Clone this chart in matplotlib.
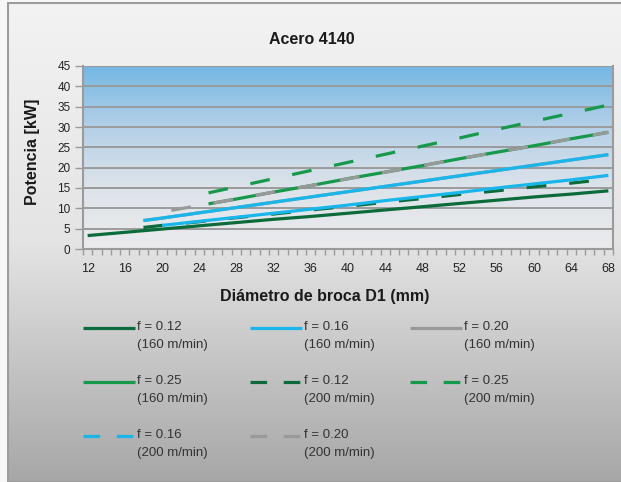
import numpy as np
import matplotlib
matplotlib.use("Agg")
import matplotlib.pyplot as plt
from matplotlib.lines import Line2D
from matplotlib.patches import Rectangle
from matplotlib.colors import LinearSegmentedColormap

W, H = 621, 482

# diameters (mm) and power (kW)
d_012_160 = [12, 16, 20, 24, 28, 32, 36, 40, 44, 48, 52, 56, 60, 64, 68]
p_012_160 = [3.3, 4.1, 4.9, 5.7, 6.5, 7.3, 8.0, 8.8, 9.6, 10.4, 11.2, 12.0, 12.8, 13.5, 14.3]

d_016_160 = [20, 24, 28, 32, 36, 40, 44, 48, 52, 56, 60, 64, 68]
p_016_160 = [5.8, 6.8, 7.8, 8.8, 9.8, 10.8, 11.9, 12.9, 13.9, 15.0, 16.0, 17.0, 18.1]

d_020_160 = [18, 20, 24, 28, 32, 36, 40, 44, 48, 52, 56, 60, 64, 68]
p_020_160 = [7.0, 7.6, 8.9, 10.2, 11.5, 12.8, 14.1, 15.4, 16.7, 18.0, 19.3, 20.6, 21.9, 23.2]

d_025_160 = [25, 28, 32, 36, 40, 44, 48, 52, 56, 60, 64, 68]
p_025_160 = [11.1, 12.3, 14.0, 15.6, 17.3, 18.9, 20.5, 22.2, 23.8, 25.4, 27.1, 28.7]

d_012_200 = [18, 20, 24, 28, 32, 36, 40, 44, 48, 52, 56, 60, 64, 68]
p_012_200 = [5.3, 5.8, 6.7, 7.7, 8.6, 9.6, 10.5, 11.5, 12.4, 13.4, 14.3, 15.3, 16.2, 17.2]

d_016_200 = [18, 20, 24, 28, 32, 36, 40, 44, 48, 52, 56, 60, 64, 68]
p_016_200 = [7.0, 7.6, 8.9, 10.2, 11.5, 12.8, 14.1, 15.4, 16.7, 18.0, 19.3, 20.6, 21.9, 23.2]

d_020_200 = [21, 24, 28, 32, 36, 40, 44, 48, 52, 56, 60, 64, 68]
p_020_200 = [9.5, 10.7, 12.3, 14.0, 15.6, 17.3, 18.9, 20.5, 22.2, 23.8, 25.4, 27.1, 28.7]

d_025_200 = [25, 28, 32, 36, 40, 44, 48, 52, 56, 60, 64, 68]
p_025_200 = [13.8, 15.3, 17.3, 19.3, 21.3, 23.3, 25.3, 27.3, 29.4, 31.4, 33.4, 35.4]

x_ticks = list(range(12, 69, 4))
y_ticks = list(range(0, 46, 5))

c_dkgreen = '#0b6b3a'
c_green = '#16994a'
c_cyan = '#18b6ea'
c_gray = '#999999'
DASH = (6.2, 7.2)

# label, x, y, color, dashed   (draw order = z order)
series = [
    ('f = 0.12\n(160 m/min)', d_012_160, p_012_160, c_dkgreen, False),
    ('f = 0.20\n(160 m/min)', d_020_160, p_020_160, c_gray, False),
    ('f = 0.25\n(160 m/min)', d_025_160, p_025_160, c_green, False),
    ('f = 0.12\n(200 m/min)', d_012_200, p_012_200, c_dkgreen, True),
    ('f = 0.16\n(160 m/min)', d_016_160, p_016_160, c_cyan, False),
    ('f = 0.16\n(200 m/min)', d_016_200, p_016_200, c_cyan, True),
    ('f = 0.20\n(200 m/min)', d_020_200, p_020_200, c_gray, True),
    ('f = 0.25\n(200 m/min)', d_025_200, p_025_200, c_green, True),
]
legend_order = [
    'f = 0.12\n(160 m/min)', 'f = 0.16\n(160 m/min)', 'f = 0.20\n(160 m/min)',
    'f = 0.25\n(160 m/min)', 'f = 0.12\n(200 m/min)', 'f = 0.25\n(200 m/min)',
    'f = 0.16\n(200 m/min)', 'f = 0.20\n(200 m/min)',
]

plt.rcParams['font.family'] = ['Liberation Sans', 'DejaVu Sans']

fig = plt.figure(figsize=(W / 100, H / 100), dpi=100)

def fx(px):
    return px / W

def fy(py):
    return 1 - py / H

# outer background gradient + frame
bg = fig.add_axes([0, 0, 1, 1], zorder=-10)
bg.axis('off')
grad = np.linspace(0, 1, 256).reshape(-1, 1)
outer_cmap = LinearSegmentedColormap.from_list('o', ['#f3f3f3', '#e4e4e4', '#a7a7a7'])
bg.imshow(grad, aspect='auto', cmap=outer_cmap, extent=[0, 1, 0, 1], origin='upper')
bg.set_xlim(0, 1)
bg.set_ylim(0, 1)
bg.add_patch(Rectangle((fx(8), 0), 1, fy(3), fill=False, edgecolor='#9c9c9c', lw=1.5))
bg.add_patch(Rectangle((0, 0), fx(7), 1, color='#f7f7f7', lw=0))
bg.add_patch(Rectangle((0, fy(2)), 1, 1, color='#f7f7f7', lw=0))

# plot area
ax = fig.add_axes([fx(83), fy(249), fx(613) - fx(83), fy(66) - fy(249)])
inner_cmap = LinearSegmentedColormap.from_list('i', ['#72b7e3', '#b4d0e8', '#dde3ea', '#ebebed'])
ax.imshow(grad, aspect='auto', cmap=inner_cmap, extent=[11.5, 68.5, 0, 45], origin='upper', zorder=0)

for yv in y_ticks[1:]:
    ax.axhline(yv, color='#9b9b9b', lw=1.4, zorder=1)

for label, xs, ys, col, dashed in series:
    ln, = ax.plot(xs, ys, color=col, lw=2.3, solid_capstyle='butt', zorder=3)
    if dashed:
        ln.set_dashes(DASH)
        if col == c_cyan:
            # in the source chart this series reads as a continuous cyan line
            ln.set_gapcolor(c_cyan)

ax.set_xlim(11.5, 68.5)
ax.set_ylim(0, 45)
ax.set_xticks(x_ticks)
ax.set_xticks(np.arange(11.5, 69, 1), minor=True)
ax.set_yticks(y_ticks)
ax.tick_params(axis='x', which='major', length=0, pad=10, labelsize=9, labelcolor='#222222')
ax.tick_params(axis='x', which='minor', length=4, color='#9b9b9b', width=1)
ax.tick_params(axis='y', length=6, color='#9b9b9b', width=1, pad=3, labelsize=8.5, labelcolor='#222222')
ax.spines['top'].set_visible(False)
for s in ['left', 'right', 'bottom']:
    ax.spines[s].set_color('#9b9b9b')
    ax.spines[s].set_linewidth(1.5)

fig.text(fx(312), fy(40), 'Acero 4140', ha='center', va='center', fontsize=11.5,
         fontweight='bold', color='#1a1a1a')
fig.text(fx(33), fy(152), 'Potencia [kW]', ha='center', va='center', rotation=90,
         fontsize=11.5, fontweight='bold', color='#1a1a1a')
fig.text(fx(325), fy(297), 'Diámetro de broca D1 (mm)', ha='center', va='center',
         fontsize=11.5, fontweight='bold', color='#1a1a1a')

# legend, 3 columns
style = {lab: (col, dashed) for lab, xs, ys, col, dashed in series}
col_x = [83, 250, 410]
row_y = [328, 382, 436]
for i, lab in enumerate(legend_order):
    r, c = divmod(i, 3)
    col, dashed = style[lab]
    x0 = col_x[c]
    y0 = row_y[r]
    ln = Line2D([fx(x0), fx(x0 + 52)], [fy(y0), fy(y0)], color=col, lw=2.3,
                solid_capstyle='butt', transform=fig.transFigure)
    if dashed:
        ln.set_dashes((5.2, 5.2))
    fig.add_artist(ln)
    fig.text(fx(x0 + 54), fy(y0 - 7), lab, ha='left', va='top', fontsize=9.5,
             color='#333333', linespacing=1.7)

fig.savefig('out.png', dpi=100)
